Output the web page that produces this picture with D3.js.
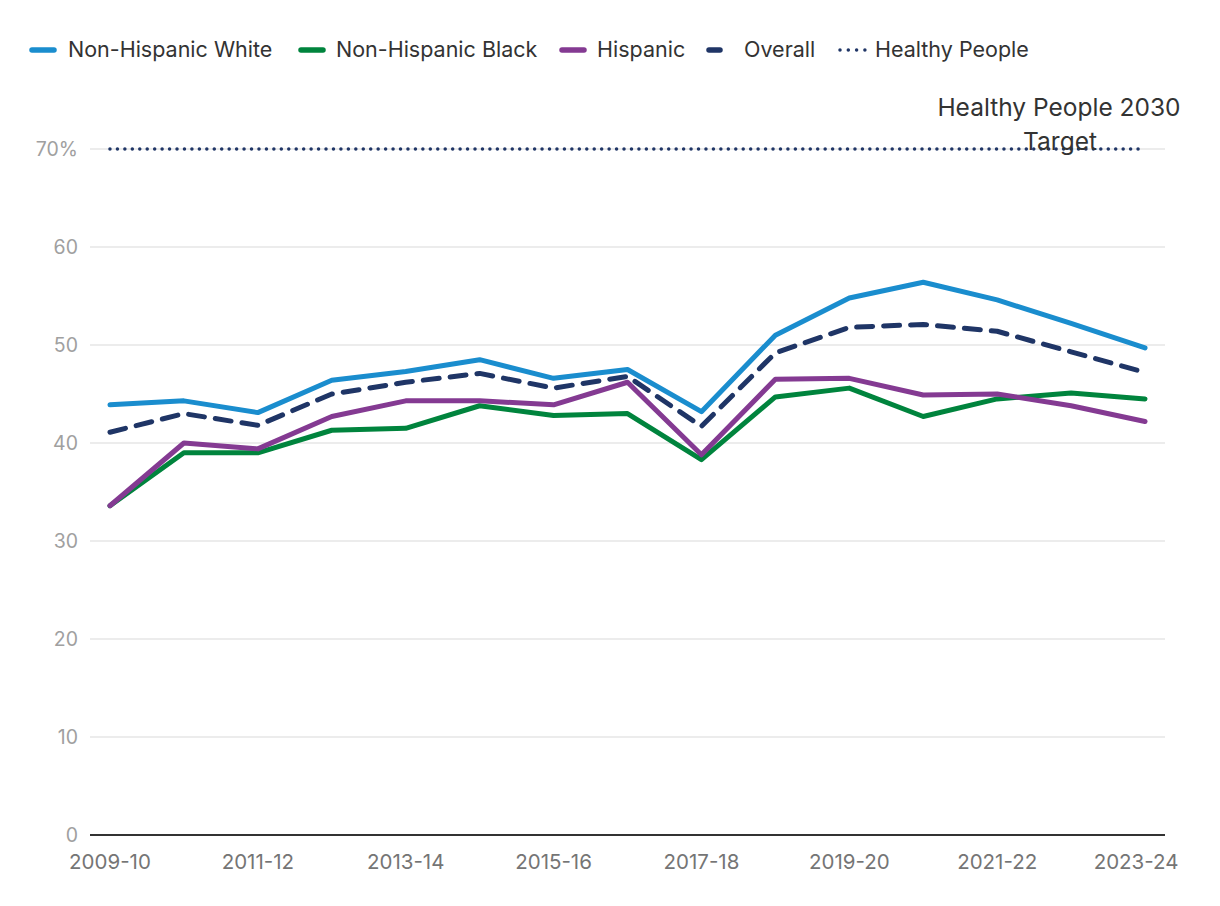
<!DOCTYPE html>
<html>
<head>
<meta charset="utf-8">
<script src="https://cdn.jsdelivr.net/npm/d3@7"></script>
<style>
  body { margin: 0; background: #fff; }
  text { font-family: Inter, Lato, sans-serif; }
</style>
</head>
<body>
<div id="chart"></div>
<script>
// seasons and values (percent vaccinated)
var seasons = ["2009-10","2010-11","2011-12","2012-13","2013-14","2014-15","2015-16",
  "2016-17","2017-18","2018-19","2019-20","2020-21","2021-22","2022-23","2023-24"];
var tickSeasons = ["2009-10","2011-12","2013-14","2015-16","2017-18","2019-20","2021-22","2023-24"];

var white    = [43.9, 44.3, 43.1, 46.4, 47.3, 48.5, 46.6, 47.5, 43.2, 51.0, 54.8, 56.4, 54.6, 52.2, 49.7];
var black    = [33.6, 39.0, 39.0, 41.3, 41.5, 43.8, 42.8, 43.0, 38.3, 44.7, 45.6, 42.7, 44.5, 45.1, 44.5];
var hispanic = [33.6, 40.0, 39.4, 42.7, 44.3, 44.3, 43.9, 46.2, 38.8, 46.5, 46.6, 44.9, 45.0, 43.8, 42.2];
var overall  = [41.1, 43.0, 41.8, 45.0, 46.2, 47.1, 45.6, 46.8, 41.7, 49.2, 51.8, 52.1, 51.4, 49.3, 47.2];
var target = 70;
var yTicks = [0, 10, 20, 30, 40, 50, 60, 70];

var series = [
  {name: "Non-Hispanic White", values: white, color: "#1a8dce", dash: null},
  {name: "Non-Hispanic Black", values: black, color: "#00843d", dash: null},
  {name: "Hispanic", values: hispanic, color: "#843a92", dash: null},
  {name: "Overall", values: overall, color: "#1f3566", dash: "16,11"}
];

var width = 1220, height = 906;
var plotLeft = 90, plotRight = 1165, plotTop = 149, plotBottom = 835;

var svg = d3.select("#chart").append("svg")
  .attr("width", width)
  .attr("height", height);

var x = d3.scalePoint()
  .domain(seasons)
  .range([plotLeft, plotRight])
  .padding(0.27);

var y = d3.scaleLinear()
  .domain([0, 70])
  .range([plotBottom, plotTop]);

// gridlines
svg.append("g")
  .selectAll("line")
  .data(yTicks.filter(function(d){ return d > 0; }))
  .enter().append("line")
  .attr("x1", plotLeft).attr("x2", plotRight)
  .attr("y1", function(d){ return y(d); })
  .attr("y2", function(d){ return y(d); })
  .attr("stroke", "#e6e6e6")
  .attr("stroke-width", 1.5);

// y labels
svg.append("g")
  .selectAll("text")
  .data(yTicks)
  .enter().append("text")
  .attr("x", 78)
  .attr("y", function(d){ return y(d) + 7; })
  .attr("text-anchor", "end")
  .attr("font-size", 19.5)
  .attr("fill", "#a0a0a0")
  .text(function(d){ return d == 70 ? "70%" : d; });

// baseline
svg.append("line")
  .attr("x1", plotLeft).attr("x2", plotRight)
  .attr("y1", y(0)).attr("y2", y(0))
  .attr("stroke", "#333")
  .attr("stroke-width", 2);

// x labels
svg.append("g")
  .selectAll("text")
  .data(tickSeasons)
  .enter().append("text")
  .attr("x", function(d, i){ return x(d) - (i == tickSeasons.length - 1 ? 9 : 0); })
  .attr("y", 869)
  .attr("text-anchor", "middle")
  .attr("font-size", 20.5)
  .attr("fill", "#757575")
  .text(function(d){ return d; });

// target line
svg.append("line")
  .attr("x1", x(seasons[0])).attr("x2", x(seasons[seasons.length - 1]))
  .attr("y1", y(target)).attr("y2", y(target))
  .attr("stroke", "#1f3566")
  .attr("stroke-width", 3.5)
  .attr("stroke-linecap", "round")
  .attr("stroke-dasharray", "0,7.45");

var line = d3.line()
  .x(function(d, i){ return x(seasons[i]); })
  .y(function(d){ return y(d); });

svg.append("g")
  .selectAll("path")
  .data(series)
  .enter().append("path")
  .attr("d", function(s){ return line(s.values); })
  .attr("fill", "none")
  .attr("stroke", function(s){ return s.color; })
  .attr("stroke-width", 5)
  .attr("stroke-linejoin", "round")
  .attr("stroke-linecap", "round")
  .attr("stroke-dasharray", function(s){ return s.dash; });

// annotation
var ann = svg.append("text")
  .attr("text-anchor", "middle")
  .attr("font-size", 24.5)
  .attr("fill", "#333");
ann.append("tspan").attr("x", 1059).attr("y", 116).text("Healthy People 2030");
ann.append("tspan").attr("x", 1060).attr("y", 150).text("Target");

// legend
var legendItems = [
  {name: "Non-Hispanic White", color: "#1a8dce", type: "solid", sx: 32, tx: 68},
  {name: "Non-Hispanic Black", color: "#00843d", type: "solid", sx: 301, tx: 336},
  {name: "Hispanic", color: "#843a92", type: "solid", sx: 562, tx: 597},
  {name: "Overall", color: "#1f3566", type: "dash", sx: 709, tx: 744},
  {name: "Healthy People", color: "#1f3566", type: "dot", sx: 840, tx: 875}
];

var lg = svg.append("g").selectAll("g")
  .data(legendItems)
  .enter().append("g");

lg.append("line")
  .attr("x1", function(d){ return d.sx; })
  .attr("x2", function(d){ return d.type == "dash" ? d.sx + 11 : d.type == "dot" ? d.sx + 25 : d.sx + 22; })
  .attr("y1", 50).attr("y2", 50)
  .attr("stroke", function(d){ return d.color; })
  .attr("stroke-width", function(d){ return d.type == "dot" ? 3.5 : 5.5; })
  .attr("stroke-linecap", "round")
  .attr("stroke-dasharray", function(d){ return d.type == "dot" ? "0,8.3" : null; });

lg.append("text")
  .attr("x", function(d){ return d.tx; })
  .attr("y", 57)
  .attr("font-size", 21.5)
  .attr("fill", "#333")
  .text(function(d){ return d.name; });
</script>
</body>
</html>
